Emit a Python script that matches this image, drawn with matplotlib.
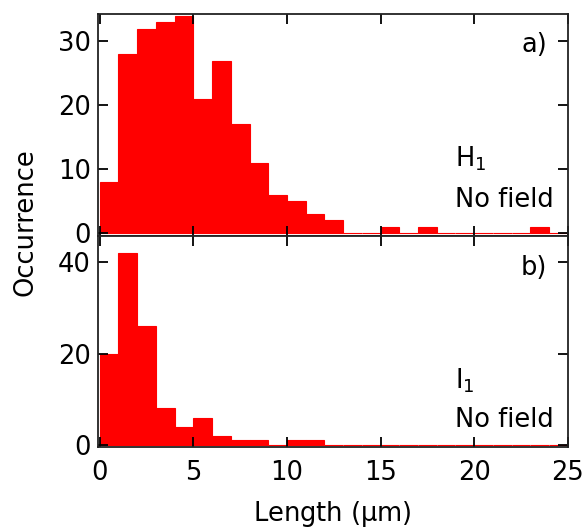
import numpy as np
import matplotlib
matplotlib.use("Agg")
import matplotlib.pyplot as plt

plt.rcParams['font.family'] = ['DejaVu Sans']
plt.rcParams['mathtext.default'] = 'regular'

# histogram bins (1 um wide, 0..25)
bin_edges = list(range(0, 26))
counts_h1 = [8, 28, 32, 33, 34, 21, 27, 17, 11, 6, 5, 3, 2, 0, 0, 1, 0, 1, 0, 0, 0, 0, 0, 1, 0]
counts_i1 = [20, 42, 26, 8, 4, 6, 2, 1, 1, 0, 1, 1, 0, 0, 0, 0, 0, 0, 0, 0, 0, 0, 0, 0, 0]

yticks_top = [0, 10, 20, 30]
yticks_bot = [0, 20, 40]
xticks = [0, 5, 10, 15, 20, 25]

fig = plt.figure(figsize=(5.86, 5.29), dpi=100)
ax1 = fig.add_axes([0.167, 0.554, 0.802, 0.4195])
ax2 = fig.add_axes([0.167, 0.155, 0.802, 0.399])

fs = 18.5
for ax, counts in [(ax1, counts_h1), (ax2, counts_i1)]:
    ax.bar(bin_edges[:-1], counts, width=1, align='edge', color='#ff0000',
           edgecolor='#ff0000', linewidth=0.8)
    ax.set_xlim(-0.1, 25.0)
    ax.set_xticks(xticks)
    ax.tick_params(direction='in', length=7, width=1.3, top=True, right=True,
                   labelsize=fs, pad=5)
    ax.tick_params(axis='x', pad=9)
    for s in ax.spines.values():
        s.set_linewidth(1.3)
        s.set_color('#222222')

ax1.set_ylim(-0.47, 34.3)
ax1.set_yticks(yticks_top)
ax1.tick_params(labelbottom=False)
ax2.set_ylim(-0.45, 45.8)
ax2.set_yticks(yticks_bot)

ax1.text(23.9, 29.4, 'a)', fontsize=fs, ha='right', va='center')
ax1.text(19.0, 11.6, 'H$_1$', fontsize=fs, ha='left', va='center')
ax1.text(19.0, 5.2, 'No field', fontsize=fs, ha='left', va='center')

ax2.text(23.9, 38.8, 'b)', fontsize=fs, ha='right', va='center')
ax2.text(19.0, 14.0, 'I$_1$', fontsize=fs, ha='left', va='center')
ax2.text(19.0, 5.5, 'No field', fontsize=fs, ha='left', va='center')

ax2.set_xlabel('Length ($\\mu$m)', fontsize=fs, labelpad=10)
fig.text(0.043, 0.58, 'Occurrence', rotation=90, fontsize=fs, ha='center', va='center')

fig.savefig('out.png', dpi=100)
